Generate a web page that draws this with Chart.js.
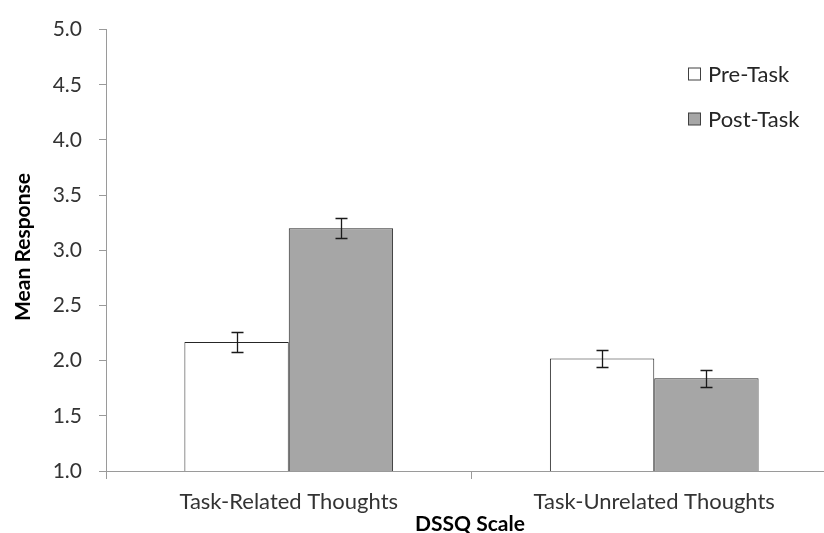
<!DOCTYPE html>
<html>
<head>
<meta charset="utf-8">
<script src="https://cdn.jsdelivr.net/npm/chart.js@4.4.0/dist/chart.umd.min.js"></script>
<style>
  html, body { margin: 0; padding: 0; background: #fff; width: 824px; height: 533px; overflow: hidden; }
  canvas { display: block; }
</style>
</head>
<body>
<canvas id="chart" width="840" height="533"></canvas>
<script>
// DSSQ scale means, pre- vs post-task, with standard-error bars
const categories = ['Task-Related Thoughts', 'Task-Unrelated Thoughts'];
const seriesNames = ['Pre-Task', 'Post-Task'];
const preTask = [2.17, 2.02];
const postTask = [3.20, 1.84];
const preTaskErr = [0.09, 0.075];
const postTaskErr = [0.09, 0.075];
const yMin = 1.0, yMax = 5.0, yStep = 0.5;

const FONT = 'Lato, "Open Sans", sans-serif';
const AXIS_GRAY = '#9a9a9a';
const TEXT_GRAY = '#333333';
const fills = ['#ffffff', '#a6a6a6'];
const errors = [preTaskErr, postTaskErr];

const errorBars = {
  id: 'errorBars',
  afterDatasetsDraw(chart) {
    const { ctx } = chart;
    const y = chart.scales.y;
    ctx.save();
    ctx.strokeStyle = '#1a1a1a';
    ctx.lineWidth = 1.3;
    chart.data.datasets.forEach((ds, di) => {
      const meta = chart.getDatasetMeta(di);
      meta.data.forEach((bar, i) => {
        const v = ds.data[i], e = errors[di][i];
        const yTop = Math.round(y.getPixelForValue(v + e)) + 0.5;
        const yBot = Math.round(y.getPixelForValue(v - e)) + 0.5;
        const x = Math.round(bar.x) + 0.5;
        ctx.beginPath();
        ctx.moveTo(x, yTop); ctx.lineTo(x, yBot);
        ctx.moveTo(x - 6, yTop); ctx.lineTo(x + 6, yTop);
        ctx.moveTo(x - 6, yBot); ctx.lineTo(x + 6, yBot);
        ctx.stroke();
      });
    });
    ctx.restore();
  }
};

const annotations = {
  id: 'annotations',
  afterDraw(chart) {
    const { ctx } = chart;
    ctx.save();
    // legend inside the plot area
    const rows = [74.5, 119.5];
    rows.forEach((cy, i) => {
      ctx.fillStyle = fills[i];
      ctx.strokeStyle = '#404040';
      ctx.lineWidth = 1;
      ctx.fillRect(688.5, cy - 6.5, 12, 12);
      ctx.strokeRect(688.5, cy - 6.5, 12, 12);
      ctx.fillStyle = '#262626';
      ctx.font = '22px ' + FONT;
      ctx.textAlign = 'left';
      ctx.textBaseline = 'middle';
      ctx.fillText(seriesNames[i], 708, cy);
    });
    // axis titles
    ctx.fillStyle = '#000';
    ctx.font = 'bold 21px ' + FONT;
    ctx.textAlign = 'center';
    ctx.textBaseline = 'middle';
    ctx.fillText('DSSQ Scale', 470, 524);
    ctx.translate(23, 247);
    ctx.rotate(-Math.PI / 2);
    ctx.fillText('Mean Response', 0, 0);
    ctx.restore();
  }
};

new Chart(document.getElementById('chart'), {
  type: 'bar',
  data: {
    labels: categories,
    datasets: [
      { label: seriesNames[0], data: preTask, backgroundColor: fills[0] },
      { label: seriesNames[1], data: postTask, backgroundColor: fills[1] }
    ]
  },
  options: {
    responsive: false,
    animation: false,
    events: [],
    layout: { padding: { top: 24, right: 3, left: 0, bottom: 0 } },
    datasets: {
      bar: {
        borderColor: '#262626',
        borderWidth: 1,
        borderSkipped: 'start',
        categoryPercentage: 0.571,
        barPercentage: 1.0
      }
    },
    plugins: {
      legend: { display: false },
      tooltip: { enabled: false },
      title: { display: false }
    },
    scales: {
      x: {
        afterFit(s) { s.height = 62; },
        grid: { offset: true, drawOnChartArea: false, drawTicks: true, tickLength: 8, color: AXIS_GRAY },
        border: { display: true, color: AXIS_GRAY, width: 1 },
        ticks: { color: TEXT_GRAY, font: { family: FONT, size: 22 }, padding: 10, maxRotation: 0 }
      },
      y: {
        min: yMin,
        max: yMax,
        afterFit(s) { s.width = 106; },
        grid: { drawOnChartArea: false, drawTicks: true, tickLength: 7, color: AXIS_GRAY },
        border: { display: true, color: AXIS_GRAY, width: 1 },
        ticks: {
          stepSize: yStep,
          color: TEXT_GRAY,
          font: { family: FONT, size: 21 },
          padding: 17,
          callback: v => Number(v).toFixed(1)
        }
      }
    }
  },
  plugins: [errorBars, annotations]
});
</script>
</body>
</html>
